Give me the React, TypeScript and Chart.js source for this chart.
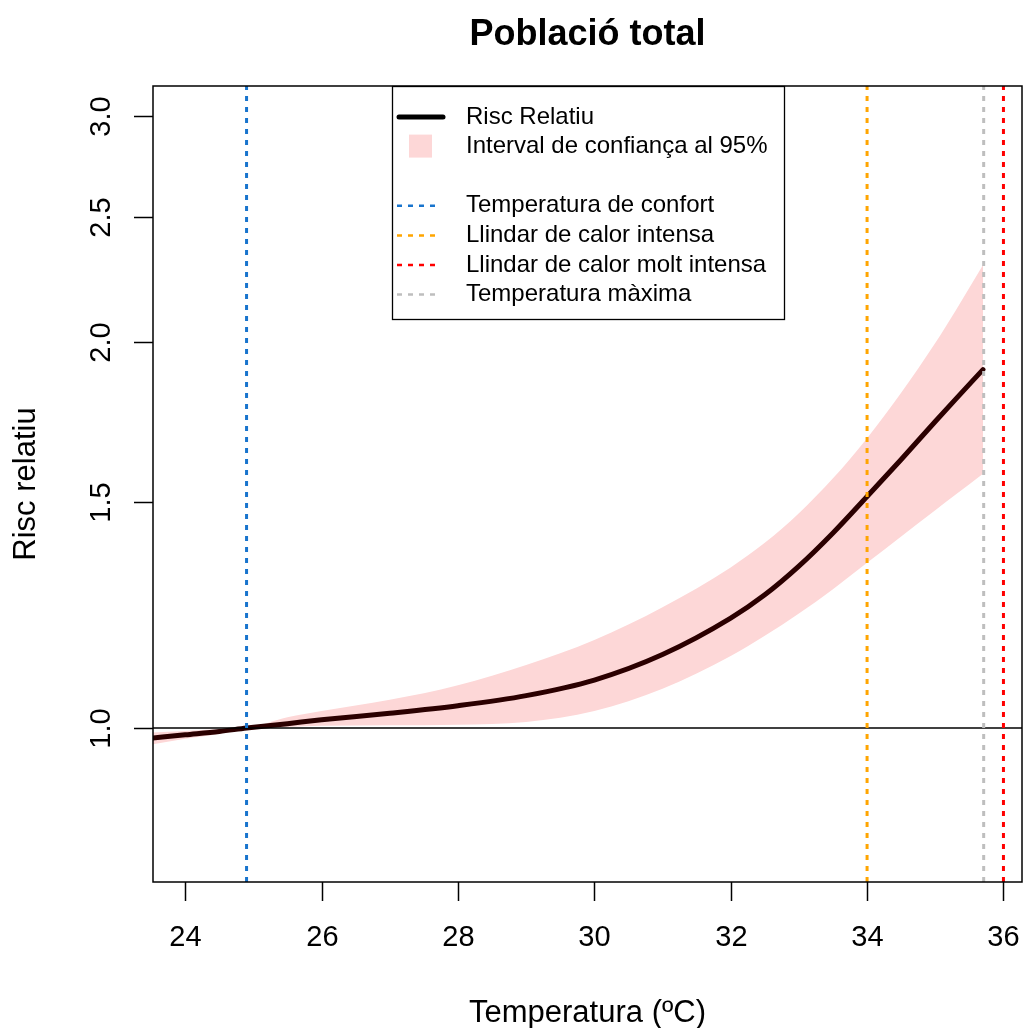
import React, { useEffect, useRef } from "react";
import { Chart, registerables } from "chart.js";

Chart.register(...registerables);

// ---- Data ----
const temps = [23.5, 24, 24.5, 24.9, 25.5, 26, 27, 28, 29, 30, 31, 32, 32.5, 33, 33.5, 34, 34.5, 35, 35.3, 35.7];
const rrValues = [0.982, 0.988, 0.994, 1.0, 1.008, 1.015, 1.027, 1.041, 1.06, 1.09, 1.141, 1.218, 1.27, 1.337, 1.419, 1.515, 1.619, 1.733, 1.804, 1.902];
const upperCI = [0.992, 0.995, 0.998, 1.0, 1.0195, 1.031, 1.052, 1.08, 1.12, 1.171, 1.242, 1.334, 1.394, 1.47, 1.565, 1.682, 1.825, 1.995, 2.115, 2.294];
const lowerCI = [0.971, 0.981, 0.99, 1.0, 1.002, 1.004, 1.005, 1.006, 1.011, 1.031, 1.073, 1.138, 1.18, 1.228, 1.283, 1.345, 1.41, 1.478, 1.52, 1.578];

const refLineValue = 1.0;
const comfortTemp = 24.9;
const intenseHeat = 34.0;
const veryIntenseHeat = 36.0;
const maxTemp = 35.71;

const xTicks = [24, 26, 28, 30, 32, 34, 36];
const yTicks = [1.0, 1.5, 2.0, 2.5, 3.0];
const yTickLabels = ["1.0", "1.5", "2.0", "2.5", "3.0"];

const xMin = 23.528;
const xMax = 36.272;
const yMin = 0.7588;
const yMax = 3.163;

const title = "Població total";
const xTitle = "Temperatura (ºC)";
const yTitle = "Risc relatiu";

const legendItems = [
  { label: "Risc Relatiu", kind: "line", color: "#000000" },
  { label: "Interval de confiança al 95%", kind: "box", color: "#FDD7D7" },
  { label: "", kind: "none", color: "" },
  { label: "Temperatura de confort", kind: "dash", color: "#1874CD" },
  { label: "Llindar de calor intensa", kind: "dash", color: "#FFA500" },
  { label: "Llindar de calor molt intensa", kind: "dash", color: "#FF0000" },
  { label: "Temperatura màxima", kind: "dash", color: "#BEBEBE" },
];

const FONT = '"Liberation Sans", Arial, Helvetica, sans-serif';
const BAND = "#FDD7D7";
const LINE = "#2B0000";
const DASH = [5, 6];

const decorPlugin = {
  id: "decor",
  afterDraw(chart: any) {
    const ctx = chart.ctx as CanvasRenderingContext2D;
    const { left, right, top, bottom } = chart.chartArea;
    const xs = chart.scales.x;
    const ys = chart.scales.y;
    ctx.save();
    ctx.strokeStyle = "#000";
    ctx.fillStyle = "#000";
    ctx.lineWidth = 1.5;
    ctx.setLineDash([]);
    ctx.strokeRect(left, top, right - left, bottom - top);

    // x ticks
    ctx.font = `29px ${FONT}`;
    ctx.textAlign = "center";
    ctx.textBaseline = "middle";
    xTicks.forEach((t) => {
      const px = Math.round(xs.getPixelForValue(t)) + 0.5;
      ctx.beginPath();
      ctx.moveTo(px, bottom);
      ctx.lineTo(px, bottom + 19);
      ctx.stroke();
      ctx.fillText(String(t), px, 938);
    });

    // y ticks
    yTicks.forEach((v, i) => {
      const py = Math.round(ys.getPixelForValue(v)) + 0.5;
      ctx.beginPath();
      ctx.moveTo(left, py);
      ctx.lineTo(left - 19, py);
      ctx.stroke();
      ctx.save();
      ctx.translate(110, py);
      ctx.rotate(-Math.PI / 2);
      ctx.textAlign = "center";
      ctx.textBaseline = "alphabetic";
      ctx.fillText(yTickLabels[i], 0, 0);
      ctx.restore();
    });

    // titles
    ctx.font = `bold 36px ${FONT}`;
    ctx.textAlign = "center";
    ctx.textBaseline = "alphabetic";
    ctx.fillText(title, (left + right) / 2, 45);

    ctx.font = `31px ${FONT}`;
    ctx.fillText(xTitle, (left + right) / 2, 1022);

    ctx.save();
    ctx.translate(35, (top + bottom) / 2);
    ctx.rotate(-Math.PI / 2);
    ctx.fillText(yTitle, 0, 0);
    ctx.restore();

    // legend
    const lx = 392, ly = top, lw = 392, lh = 233;
    ctx.fillStyle = "#fff";
    ctx.fillRect(lx, ly, lw, lh);
    ctx.lineWidth = 1.3;
    ctx.strokeStyle = "#000";
    ctx.strokeRect(lx + 0.5, ly + 0.5, lw, lh);
    ctx.font = `24px ${FONT}`;
    ctx.textAlign = "left";
    ctx.textBaseline = "middle";
    const rowY0 = 117;
    const rowH = 29.6;
    legendItems.forEach((it, i) => {
      const y = rowY0 + i * rowH;
      if (it.kind === "line") {
        ctx.strokeStyle = it.color;
        ctx.lineWidth = 5;
        ctx.lineCap = "round";
        ctx.setLineDash([]);
        ctx.beginPath();
        ctx.moveTo(399, y);
        ctx.lineTo(443, y);
        ctx.stroke();
      } else if (it.kind === "box") {
        ctx.fillStyle = it.color;
        ctx.fillRect(409, y - 12, 23, 23);
      } else if (it.kind === "dash") {
        ctx.strokeStyle = it.color;
        ctx.lineWidth = 2.5;
        ctx.lineCap = "butt";
        ctx.setLineDash(DASH);
        ctx.beginPath();
        ctx.moveTo(397, y);
        ctx.lineTo(437, y);
        ctx.stroke();
        ctx.setLineDash([]);
      }
      if (it.label) {
        ctx.fillStyle = "#000";
        ctx.fillText(it.label, 466, y);
      }
    });
    ctx.restore();
  },
};

function vline(x: number, color: string) {
  return {
    data: [
      { x, y: yMin },
      { x, y: yMax },
    ],
    borderColor: color,
    borderWidth: 3,
    borderDash: DASH,
    pointRadius: 0,
    fill: false,
    order: 1,
    clip: 0,
  };
}

export default function App() {
  const ref = useRef<HTMLCanvasElement>(null);
  useEffect(() => {
    if (!ref.current) return;
    const toPts = (ys: number[]) => temps.map((t, i) => ({ x: t, y: ys[i] }));
    const chart = new Chart(ref.current, {
      type: "line",
      data: {
        datasets: [
          {
            data: toPts(lowerCI),
            borderWidth: 0,
            pointRadius: 0,
            fill: false,
            cubicInterpolationMode: "monotone",
            order: 10,
            clip: 0,
          } as any,
          {
            data: toPts(upperCI),
            borderWidth: 0,
            pointRadius: 0,
            backgroundColor: BAND,
            fill: "-1",
            cubicInterpolationMode: "monotone",
            order: 9,
            clip: 0,
          } as any,
          {
            data: toPts(rrValues),
            borderColor: LINE,
            borderWidth: 5,
            borderCapStyle: "round",
            pointRadius: 0,
            fill: false,
            cubicInterpolationMode: "monotone",
            order: 3,
            clip: 0,
          } as any,
          {
            data: [
              { x: xMin, y: refLineValue },
              { x: xMax, y: refLineValue },
            ],
            borderColor: "#000",
            borderWidth: 1.5,
            pointRadius: 0,
            fill: false,
            order: 2,
            clip: 0,
          } as any,
          vline(comfortTemp, "#1874CD") as any,
          vline(intenseHeat, "#FFA500") as any,
          vline(veryIntenseHeat, "#FF0000") as any,
          vline(maxTemp, "#BEBEBE") as any,
        ],
      },
      options: {
        responsive: false,
        maintainAspectRatio: false,
        animation: false,
        devicePixelRatio: 1,
        layout: { padding: { left: 153, top: 86, right: 1, bottom: 146 } },
        plugins: { legend: { display: false }, tooltip: { enabled: false }, title: { display: false } },
        scales: {
          x: { type: "linear", min: xMin, max: xMax, display: false },
          y: { type: "logarithmic", min: yMin, max: yMax, display: false },
        },
      },
      plugins: [decorPlugin],
    });
    return () => chart.destroy();
  }, []);
  return (
    <div style={{ position: "absolute", left: 0, top: 0, width: 1023, height: 1028, background: "#fff" }}>
      <canvas ref={ref} width={1023} height={1028} style={{ width: 1023, height: 1028, display: "block" }} />
    </div>
  );
}
